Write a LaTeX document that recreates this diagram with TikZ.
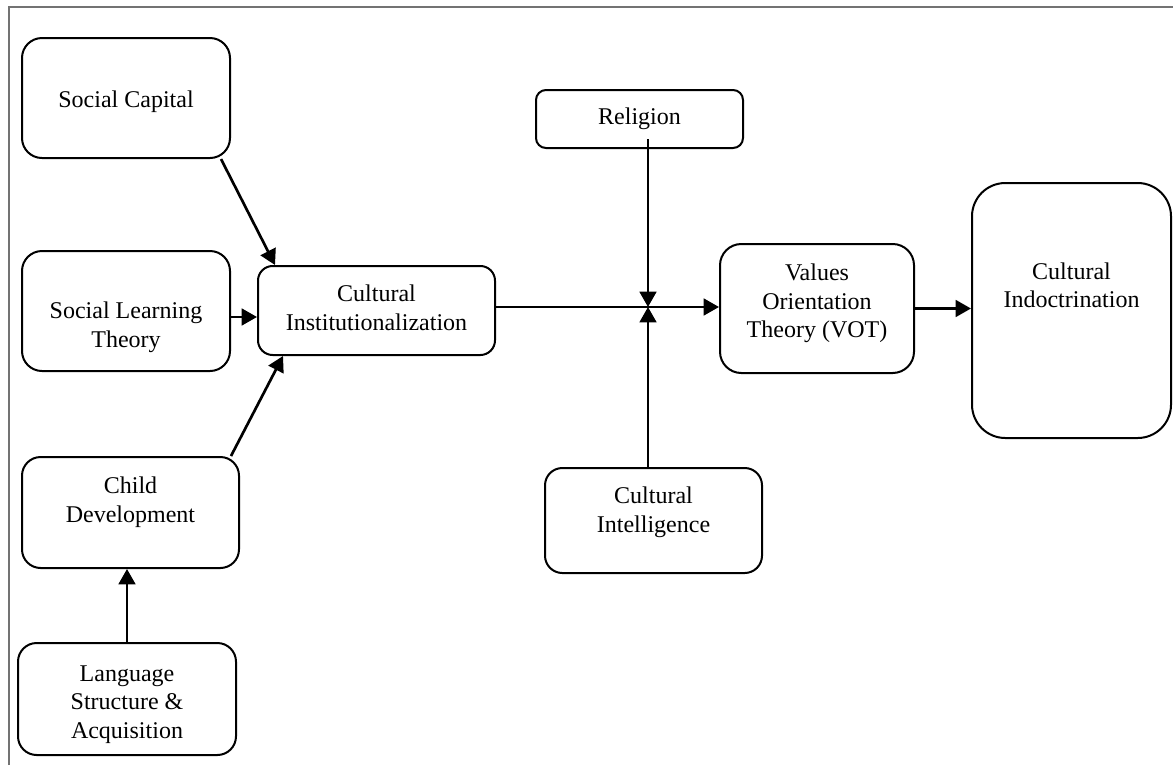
\documentclass[tikz,border=0pt]{standalone}
\usepackage{fontspec}
\setmainfont{Liberation Serif}
\usepackage{tikz}
\usetikzlibrary{arrows.meta}
\newcommand{\boxlines}[2]{\raisebox{#1}[\height][\depth]{\begin{tabular}{@{}c@{}}#2\end{tabular}}}

\begin{document}
\begin{tikzpicture}[x=0.75pt,y=-0.75pt,
box/.style={draw,line width=1.5pt,inner sep=0pt,font=\fontsize{18}{21.5}\selectfont},
link/.style={line width=2pt,-{Triangle[length=11.5pt,width=12.5pt]}}
]
\useasboundingbox (0,0) rectangle (1173,765);
\draw[black!55,line width=1.5pt] (9,765) |- (1173,7);

\node[box,rounded corners=15pt,minimum width=156pt,minimum height=90pt] (sc) at (126,98) {\boxlines{-3pt}{Social Capital}};
\node[box,rounded corners=15pt,minimum width=156pt,minimum height=90pt] (slt) at (126,311) {\boxlines{-12pt}{Social Learning\\Theory}};
\node[box,rounded corners=14pt,minimum width=162.75pt,minimum height=83.25pt] (cd) at (130.5,512.5) {\boxlines{7.5pt}{Child\\Development}};
\node[box,rounded corners=14pt,minimum width=163.5pt,minimum height=84pt] (lang) at (127,699) {\boxlines{-3.75pt}{Language\\Structure \&\\Acquisition}};
\node[box,rounded corners=11pt,minimum width=177.75pt,minimum height=66.75pt] (ci) at (376.5,310.5) {\boxlines{0pt}{Cultural\\Institutionalization}};
\node[box,rounded corners=7.5pt,minimum width=155.25pt,minimum height=43.5pt] (rel) at (639.5,119) {\boxlines{0pt}{Religion}};
\node[box,rounded corners=13pt,minimum width=162.75pt,minimum height=78.75pt] (cq) at (653.5,520.5) {\boxlines{6pt}{Cultural\\Intelligence}};
\node[box,rounded corners=16pt,minimum width=145.5pt,minimum height=96.75pt] (vot) at (817,308.5) {\boxlines{3.75pt}{Values\\Orientation\\Theory (VOT)}};
\node[box,rounded corners=25pt,minimum width=149.25pt,minimum height=191.25pt] (ind) at (1071.5,310.5) {\boxlines{17pt}{Cultural\\Indoctrination}};

\coordinate (hub) at (648,307);
\coordinate (relfoot) at ([yshift=7.5pt]rel.south);

% inputs of the institutionalization box
\draw[link] ([xshift=-7.5pt]sc.south east) -- ([xshift=13.5pt]ci.north west);
\draw[link] ([yshift=-4.5pt]slt.east) -- ([yshift=-4.5pt]slt.east -| ci.west);
\draw[link] ([xshift=-6.75pt]cd.north east) -- ([xshift=19.5pt]ci.south west);
\draw[link] (lang.north) -- (lang.north |- cd.south);

% main line
\draw[link] (ci.east |- hub) -- (vot.west |- hub);
\draw[link] (relfoot -| hub) -- (hub);
\draw[link] (cq.north -| hub) -- (hub);
\draw[link] (vot.east) -- (vot.east -| ind.west);
\end{tikzpicture}
\end{document}
